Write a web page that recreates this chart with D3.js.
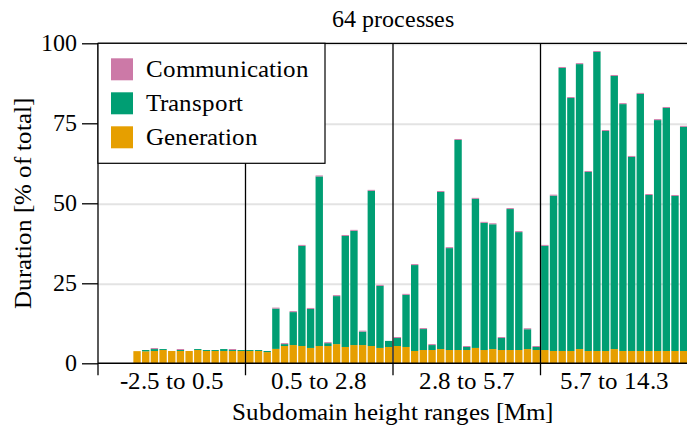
<!DOCTYPE html>
<html>
<head>
<meta charset="utf-8">
<script src="https://cdn.jsdelivr.net/npm/d3@7"></script>
<style>
  @font-face { font-family: "ChartSerif"; src: local("Liberation Serif"), local("LiberationSerif"), local("Liberation Serif Regular"), local("LiberationSerif-Regular"); }
</style>
</head>
<body style="margin:0">
<svg id="chart" width="687" height="425"></svg>
<script>
// Data: one slot per bar, 4 groups of 17 slots (first 4 slots empty)
var groupLabels = ["-2.5 to 0.5", "0.5 to 2.8", "2.8 to 5.7", "5.7 to 14.3"];
var slotsPerGroup = 17;
var seriesNames = ["Generation", "Transport", "Communication"];
var seriesColors = ["#E69F00", "#009E73", "#CC79A7"];
var yTicks = [0, 25, 50, 75, 100];

var generation = [
  0, 0, 0, 0, 3.8, 3.75, 3.85, 4.15, 3.85, 3.85, 3.85, 4.15, 3.85, 3.85, 3.85, 3.85, 3.85,
  3.85, 3.85, 3.5, 4.5, 5.4, 5.7, 5.4, 4.8, 5.4, 5.4, 6.0, 5.1, 5.7, 5.7, 5.4, 4.8, 5.1,
  5.4, 5.1, 3.85, 4.15, 4.15, 4.45, 4.15, 4.15, 4.15, 4.8, 4.15, 4.45, 4.15, 4.15, 4.15, 4.45, 4.15,
  4.15, 3.85, 3.85, 3.85, 4.45, 3.85, 3.85, 3.85, 4.45, 3.85, 3.85, 3.85, 3.85, 3.85, 3.85, 3.85, 3.85
];
var transport = [
  0, 0, 0, 0, 0, 0.4, 0.6, 0.3, 0, 0.3, 0, 0.3, 0.3, 0.3, 0.6, 0.3, 0.3,
  0.3, 0.3, 0.35, 12.6, 0.6, 10.3, 31.3, 12.2, 53.0, 0.9, 15.0, 34.7, 35.7, 4.2, 48.5, 19.4, 1.9,
  2.5, 16.3, 26.85, 6.55, 1.55, 49.1, 31.85, 65.65, 0.95, 46.6, 39.75, 39.0, 3.75, 44.05, 36.85, 6.2, 0.95,
  32.55, 48.55, 88.45, 79.05, 89.05, 55.95, 93.45, 68.75, 85.35, 77.15, 60.65, 80.35, 48.75, 72.15, 75.95, 48.45, 70.05
];
var communication = [
  0, 0, 0, 0, 0, 0, 0.3, 0, 0, 0.3, 0, 0, 0, 0, 0, 0.3, 0,
  0, 0, 0, 0.3, 0.3, 0.3, 0.3, 0.3, 0.3, 0.3, 0.3, 0.3, 0.3, 0.3, 0.3, 0.3, 0,
  0.3, 0.3, 0.3, 0.3, 0.3, 0.3, 0.3, 0.3, 0.3, 0.3, 0.3, 0.3, 0.3, 0.3, 0.3, 0.3, 0.3,
  0.3, 0.3, 0.3, 0.3, 0.3, 0.3, 0.3, 0.3, 0.3, 0.3, 0.3, 0.3, 0.3, 0.3, 0.3, 0.3, 0.3
];

var svgWidth = 687;
var svgHeight = 425;
var margin = { top: 43.3, right: -1, bottom: 61.7, left: 98 };
var width = svgWidth - margin.left - margin.right;
var height = svgHeight - margin.top - margin.bottom;
var serifStack = '"ChartSerif", "Liberation Serif", "Times New Roman", serif';

var svg = d3.select("#chart");

var chartGroup = svg.append("g")
  .attr("transform", `translate(${margin.left}, ${margin.top})`);

// shared text style
function styleText(sel, size) {
  sel.attr("font-size", size)
    .style("font-family", serifStack);
}

var rows = generation.map((g, i) => ({
  slot: i,
  Generation: g,
  Transport: transport[i],
  Communication: communication[i]
}));

var xScale = d3.scaleBand()
  .domain(d3.range(rows.length))
  .range([0, width])
  .paddingInner(0.15)
  .paddingOuter(0.075);
var step = xScale.step();

var yScale = d3.scaleLinear()
  .domain([0, 100])
  .range([height, 0]);

// Grid lines
chartGroup.selectAll(".grid")
  .data(yTicks.slice(1))
  .enter()
  .append("line")
  .attr("x1", 0)
  .attr("x2", width)
  .attr("y1", d => yScale(d) + 1)
  .attr("y2", d => yScale(d) + 1)
  .attr("stroke", "#e3e3e3")
  .attr("stroke-width", 2);

// Stacked bars
var stacked = d3.stack().keys(seriesNames)(rows);
chartGroup.selectAll(".layer")
  .data(stacked)
  .enter()
  .append("g")
  .attr("fill", (d, i) => seriesColors[i])
  .selectAll("rect")
  .data(d => d)
  .enter()
  .append("rect")
  .attr("x", d => xScale(d.data.slot))
  .attr("width", xScale.bandwidth())
  .attr("y", d => yScale(d[1]))
  .attr("height", d => yScale(d[0]) - yScale(d[1]));

// Group separators (extend below axis like ticks)
var groupEdges = d3.range(groupLabels.length + 1).map(i => i * slotsPerGroup);
chartGroup.selectAll(".sep")
  .data(groupEdges)
  .enter()
  .append("line")
  .attr("x1", d => d * step)
  .attr("x2", d => d * step)
  .attr("y1", 0)
  .attr("y2", height + 12)
  .attr("stroke", "#000")
  .attr("stroke-width", 1.3);

// Frame: bottom and top spines
chartGroup.append("line")
  .attr("x1", 0).attr("x2", width)
  .attr("y1", height).attr("y2", height)
  .attr("stroke", "#000").attr("stroke-width", 1.6);
chartGroup.append("line")
  .attr("x1", 0).attr("x2", width)
  .attr("y1", 0).attr("y2", 0)
  .attr("stroke", "#000").attr("stroke-width", 1.3);

// Y axis
var leftAxis = d3.axisLeft(yScale)
  .tickValues(yTicks)
  .tickSize(16)
  .tickPadding(5)
  .tickFormat(d3.format("d"));
var yAxisG = chartGroup.append("g").call(leftAxis)
  .attr("font-family", null)
  .attr("font-size", null);
yAxisG.select(".domain").remove();
yAxisG.selectAll(".tick line").attr("stroke", "#000").attr("stroke-width", 1.3);
yAxisG.selectAll(".tick text").call(styleText, 24);

// Group labels
chartGroup.selectAll(".glabel")
  .data(groupLabels)
  .enter()
  .append("text")
  .attr("x", (d, i) => (i + 0.5) * slotsPerGroup * step)
  .attr("y", height + 26)
  .attr("text-anchor", "middle")
  .call(styleText, 25)
  .text(d => d);

// Axis titles
chartGroup.append("text")
  .attr("x", width / 2 - 1)
  .attr("y", height + 57)
  .attr("text-anchor", "middle")
  .call(styleText, 25)
  .text("Subdomain height ranges [Mm]");

svg.append("text")
  .attr("transform", `translate(31, ${margin.top + height / 2}) rotate(-90)`)
  .attr("text-anchor", "middle")
  .call(styleText, 25)
  .text("Duration [% of total]");

svg.append("text")
  .attr("x", margin.left + width / 2)
  .attr("y", 27)
  .attr("text-anchor", "middle")
  .call(styleText, 24)
  .text("64 processes");

// Legend
var legend = chartGroup.append("g");
legend.append("rect")
  .attr("x", 0)
  .attr("y", 0)
  .attr("width", 227)
  .attr("height", 120)
  .attr("fill", "#fff")
  .attr("stroke", "#000")
  .attr("stroke-width", 1.2);
var legendOrder = [2, 1, 0];
legendOrder.forEach((s, i) => {
  legend.append("rect")
    .attr("x", 13)
    .attr("y", 15 + i * 34)
    .attr("width", 22)
    .attr("height", 22)
    .attr("fill", seriesColors[s]);
  legend.append("text")
    .attr("x", 48)
    .attr("y", 34 + i * 34)
    .call(styleText, 25)
    .text(seriesNames[s]);
});
</script>
</body>
</html>
